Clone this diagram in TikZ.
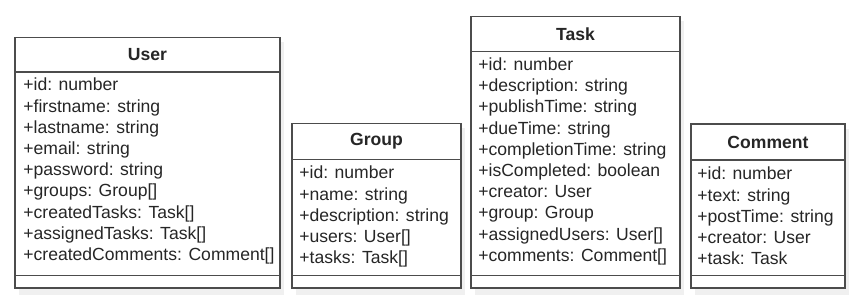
\documentclass[tikz,border=0pt]{standalone}
\usepackage{fontspec}
\setmainfont{Liberation Sans}

\begin{document}
\begin{tikzpicture}[x=0.2mm,y=-0.2mm]
  \tikzstyle{box}=[draw=black!70,line width=0.8pt]
  \tikzstyle{shade}=[fill=black!6]
  \tikzstyle{title}=[font=\bfseries,text=black!85,inner sep=0pt]
  \tikzstyle{attr}=[anchor=base west,inner sep=0pt,text=black!85]
  \useasboundingbox (0,0) rectangle (858,307);
  % class boxes: left/right/top/header line/name
  \foreach \l / \r / \t / \h / \name in {15/280/37.5/72/User,292/461/123.5/159.5/Group,471/680/16.5/51.5/Task,691/845/124/160/Comment}{
     \fill[shade] (\l+4,\t+5) rectangle (\r+4,295);
     \fill[white] (\l,\t) rectangle (\r,288);
     \draw[box] (\l,\t) rectangle (\r,288);
     \draw[box] (\l,\h) -- (\r,\h) (\l,275.5) -- (\r,275.5);
     \node[title] (\name) at ({(\l+\r)/2},{(\t+\h)/2}) {\name};
  }
  % attributes, one row per baseline
  \foreach \s [count=\i] in {{+id: number},{+firstname: string},{+lastname: string},{+email: string},{+password: string},{+groups: Group[]},{+createdTasks: Task[]},{+assignedTasks: Task[]},{+createdComments: Comment[]}}
     \node[attr] (user-\i) at (23,{91+21.2*(\i-1)}) {\s};
  \foreach \s [count=\i] in {{+id: number},{+name: string},{+description: string},{+users: User[]},{+tasks: Task[]}}
     \node[attr] (group-\i) at (299,{179+21.2*(\i-1)}) {\s};
  \foreach \s [count=\i] in {{+id: number},{+description: string},{+publishTime: string},{+dueTime: string},{+completionTime: string},{+isCompleted: boolean},{+creator: User},{+group: Group},{+assignedUsers: User[]},{+comments: Comment[]}}
     \node[attr] (task-\i) at (478,{70.5+21.2*(\i-1)}) {\s};
  \foreach \s [count=\i] in {{+id: number},{+text: string},{+postTime: string},{+creator: User},{+task: Task}}
     \node[attr] (comment-\i) at (697,{180+21.2*(\i-1)}) {\s};
\end{tikzpicture}
\end{document}
